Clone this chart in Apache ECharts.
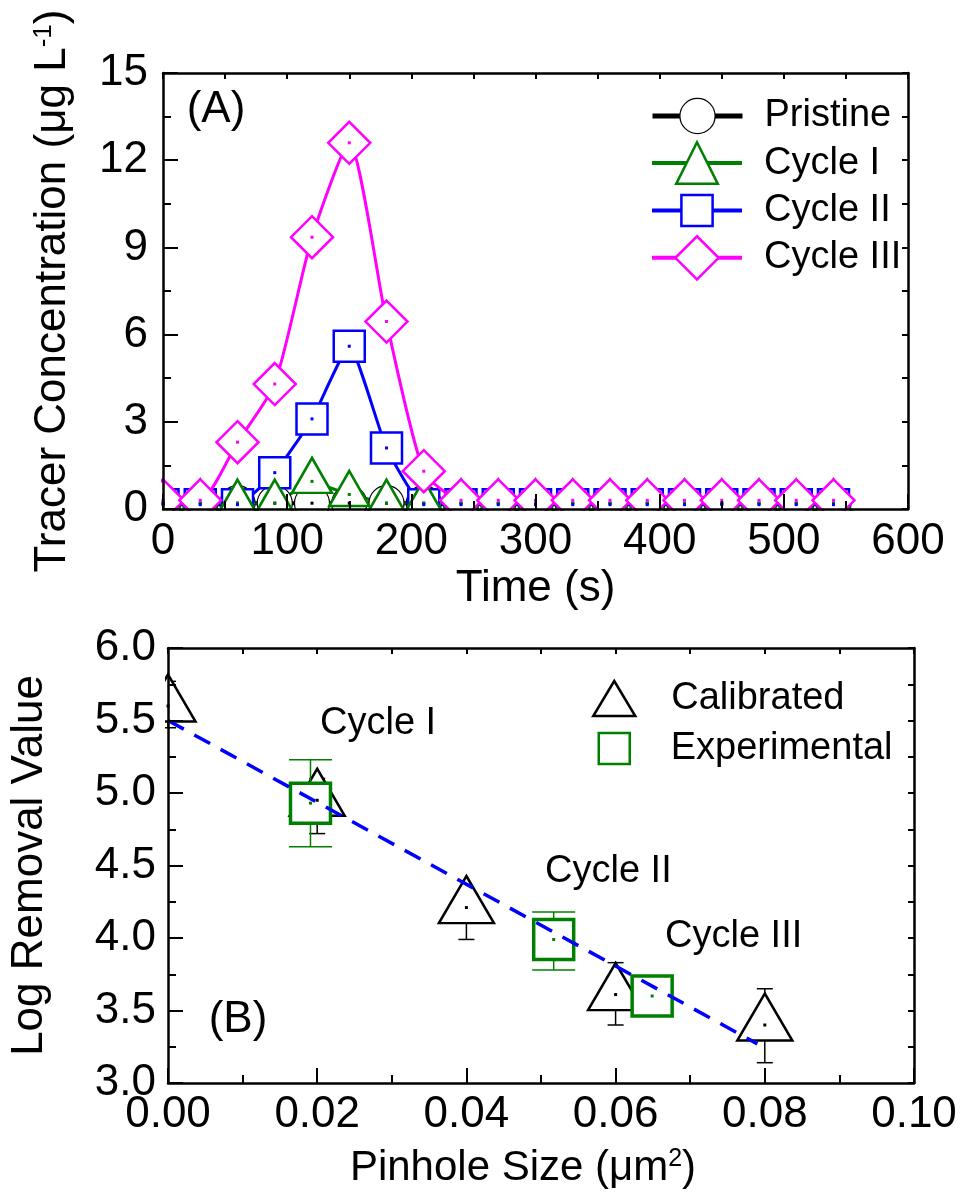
<!DOCTYPE html>
<html>
<head>
<meta charset="utf-8">
<script src="https://cdn.jsdelivr.net/npm/echarts@6/dist/echarts.min.js"></script>
<style>
  html, body { margin: 0; padding: 0; background: #fff; }
  #main { width: 963px; height: 1198px; }
</style>
</head>
<body>
<div id="main"></div>
<script>
// ---- data (A): tracer breakthrough ----
var time = [0, 30, 60, 90, 120, 150, 180, 210, 240, 270, 300, 330, 360, 390, 420, 450, 480, 510, 540];
var pristine = [0.2, 0.2, 0.2, 0.2, 0.2, 0.2, 0.2, 0.2, 0.2, 0.2, 0.2, 0.2, 0.2, 0.2, 0.2, 0.2, 0.2, 0.2, 0.2];
var cycle1 = [0.2, 0.2, 0.2, 0.2, 0.95, 0.5, 0.2, 0.2, 0.2, 0.2, 0.2, 0.2, 0.2, 0.2, 0.2, 0.2, 0.2, 0.2, 0.2];
var cycle2 = [0.15, 0.15, 0.15, 1.25, 3.1, 5.6, 2.1, 0.15, 0.15, 0.15, 0.15, 0.15, 0.15, 0.15, 0.15, 0.15, 0.15, 0.15, 0.15];
var cycle3 = [0.3, 0.3, 2.3, 4.3, 9.35, 12.6, 6.45, 1.3, 0.3, 0.3, 0.3, 0.3, 0.3, 0.3, 0.3, 0.3, 0.3, 0.3, 0.3];

// ---- data (B): log removal vs pinhole size ----
var calX = [0, 0.02, 0.04, 0.06, 0.08];
var calY = [5.6, 4.95, 4.21, 3.61, 3.40];
var calLow = [5.45, 4.72, 3.99, 3.40, 3.14];
var calHigh = [5.77, 5.1, 4.31, 3.83, 3.65];
var expX = [0.0191, 0.0517, 0.0649];
var expY = [4.93, 3.99, 3.60];
var expLow = [4.63, 3.78, 3.46];
var expHigh = [5.23, 4.18, 3.74];
var fitX = [0, 0.079];
var fitY = [5.5, 3.27];

var FONT = 'Liberation Sans, Arial, sans-serif';

function pairs(xs, ys) {
  return xs.map(function (x, i) { return [x, ys[i]]; });
}
function triples(xs, lo, hi) {
  return xs.map(function (x, i) { return [x, lo[i], hi[i]]; });
}

function errorBar(capW, color, lw) {
  return function (params, api) {
    var x = api.value(0);
    var pLo = api.coord([x, api.value(1)]);
    var pHi = api.coord([x, api.value(2)]);
    var st = { stroke: color, lineWidth: lw };
    return {
      type: 'group',
      children: [
        { type: 'line', shape: { x1: pHi[0], y1: pHi[1], x2: pLo[0], y2: pLo[1] }, style: st },
        { type: 'line', shape: { x1: pHi[0] - capW / 2, y1: pHi[1], x2: pHi[0] + capW / 2, y2: pHi[1] }, style: st },
        { type: 'line', shape: { x1: pLo[0] - capW / 2, y1: pLo[1], x2: pLo[0] + capW / 2, y2: pLo[1] }, style: st }
      ]
    };
  };
}

function mainAxis(grid, pos, min, max, interval, dec, margin) {
  return {
    gridIndex: grid, type: 'value', position: pos, min: min, max: max, interval: interval, z: 10,
    axisLine: { onZero: false, lineStyle: { color: '#000', width: 2.5 } },
    axisTick: { inside: true, length: 15, lineStyle: { color: '#000', width: 2 } },
    minorTick: { show: true, splitNumber: 2, length: 8, lineStyle: { color: '#000', width: 2 } },
    splitLine: { show: false },
    axisLabel: {
      fontSize: 44, color: '#000', fontFamily: FONT, margin: margin,
      formatter: function (v) { return v.toFixed(dec); }
    }
  };
}
function mirrorAxis(grid, pos, min, max, interval) {
  return {
    gridIndex: grid, type: 'value', position: pos, min: min, max: max, interval: interval, z: 10,
    axisLine: { onZero: false, lineStyle: { color: '#000', width: 2.5 } },
    axisTick: { inside: true, length: 6, lineStyle: { color: '#000', width: 2 } },
    minorTick: { show: true, splitNumber: 2, length: 6, lineStyle: { color: '#000', width: 2 } },
    splitLine: { show: false },
    axisLabel: { show: false }
  };
}

function lineLegend(name, top, h, lw) {
  return {
    data: [name], left: 650, top: top, orient: 'vertical', padding: 0,
    itemWidth: 90, itemHeight: h, selectedMode: false,
    lineStyle: { width: lw },
    itemStyle: { borderWidth: name === 'Pristine' ? 1.2 : 2.5 },
    textStyle: { fontSize: 38, color: '#000', fontFamily: FONT, padding: [0, 0, 0, 17] }
  };
}
function dotSeries(x, y, data, color) {
  return {
    type: 'scatter', xAxisIndex: x, yAxisIndex: y, data: data, symbol: 'rect', symbolSize: 3,
    itemStyle: { color: color, opacity: 1 }, z: 4, silent: true
  };
}

var myChart = echarts.init(document.getElementById('main'));

var xA = mainAxis(0, 'bottom', 0, 600, 100, 0, 11);
xA.name = 'Time (s)';
xA.nameLocation = 'middle';
xA.nameGap = 58;
xA.nameTextStyle = { fontSize: 44, color: '#000', fontFamily: FONT };

var yA = mainAxis(0, 'left', 0, 15, 3, 0, 15);
yA.name = '{a|Tracer Concentration (\u03bcg L}{s|-1}{a|)}';
yA.nameLocation = 'middle';
yA.nameGap = 88;
yA.nameTextStyle = {
  color: '#000', fontFamily: FONT,
  rich: {
    a: { fontSize: 44, color: '#000', fontFamily: FONT },
    s: { fontSize: 26, color: '#000', fontFamily: FONT, verticalAlign: 'top' }
  }
};

var xB = mainAxis(1, 'bottom', 0, 0.1, 0.02, 2, 10);
xB.name = '{a|Pinhole Size (\u03bcm}{s|2}{a|)}';
xB.nameLocation = 'middle';
xB.nameGap = 64;
xB.nameTextStyle = {
  color: '#000', fontFamily: FONT, fontSize: 42, padding: [0, 36, 0, 0],
  rich: {
    a: { fontSize: 42, color: '#000', fontFamily: FONT },
    s: { fontSize: 25, color: '#000', fontFamily: FONT, verticalAlign: 'top' }
  }
};

var yB = mainAxis(1, 'left', 3, 6, 0.5, 1, 12);
yB.name = 'Log Removal Value';
yB.nameLocation = 'middle';
yB.nameGap = 116;
yB.nameTextStyle = { fontSize: 44, color: '#000', fontFamily: FONT };

var option = {
  backgroundColor: '#fff',
  textStyle: { fontFamily: FONT },
  animation: false,
  grid: [
    { left: 163, top: 73, width: 745, height: 436 },
    { left: 167, top: 648, width: 747, height: 435 }
  ],
  xAxis: [xA, mirrorAxis(0, 'top', 0, 600, 100), xB, mirrorAxis(1, 'top', 0, 0.1, 0.02)],
  yAxis: [yA, mirrorAxis(0, 'right', 0, 15, 3), yB, mirrorAxis(1, 'right', 3, 6, 0.5)],
  legend: [
    lineLegend('Pristine', 97, 44, 5),
    lineLegend('Cycle I', 141, 52, 4),
    lineLegend('Cycle II', 191.5, 39, 4),
    lineLegend('Cycle III', 235, 54, 4),
    {
      data: ['Calibrated'], left: 592, top: 679.5, padding: 0, itemWidth: 42, itemHeight: 35, selectedMode: false,
      itemStyle: { borderWidth: 2.5 },
      textStyle: { fontSize: 38, color: '#000', fontFamily: FONT, padding: [0, 0, 0, 31] }
    },
    {
      data: ['Experimental'], left: 597.5, top: 729.5, padding: 0, itemWidth: 31, itemHeight: 31, selectedMode: false,
      itemStyle: { borderWidth: 2.5 },
      textStyle: { fontSize: 38, color: '#000', fontFamily: FONT, padding: [0, 0, 0, 36] }
    }
  ],
  graphic: [
    // masks so markers are cut at the frame, as in the original plot
    { type: 'rect', z: 5, silent: true, shape: { x: 100, y: 60, width: 61, height: 475 }, style: { fill: '#fff' } },
    { type: 'rect', z: 5, silent: true, shape: { x: 100, y: 511, width: 830, height: 22 }, style: { fill: '#fff' } },
    { type: 'rect', z: 5, silent: true, shape: { x: 100, y: 636, width: 65, height: 460 }, style: { fill: '#fff' } },
    { type: 'text', z: 6, style: { text: '(A)', x: 216, y: 110, align: 'center', verticalAlign: 'middle', fontSize: 44, fontFamily: FONT, fill: '#000' } },
    { type: 'text', z: 6, style: { text: '(B)', x: 238, y: 1020, align: 'center', verticalAlign: 'middle', fontSize: 44, fontFamily: FONT, fill: '#000' } },
    { type: 'text', z: 6, style: { text: 'Cycle I', x: 320, y: 724, align: 'left', verticalAlign: 'middle', fontSize: 38, fontFamily: FONT, fill: '#000' } },
    { type: 'text', z: 6, style: { text: 'Cycle II', x: 545, y: 872, align: 'left', verticalAlign: 'middle', fontSize: 38, fontFamily: FONT, fill: '#000' } },
    { type: 'text', z: 6, style: { text: 'Cycle III', x: 665, y: 937, align: 'left', verticalAlign: 'middle', fontSize: 38, fontFamily: FONT, fill: '#000' } }
  ],
  series: [
    {
      name: 'Pristine', type: 'line', xAxisIndex: 0, yAxisIndex: 0, data: pairs(time, pristine),
      symbol: 'circle', symbolSize: 35, z: 2,
      itemStyle: { color: '#fff', borderColor: '#000', borderWidth: 1.2, opacity: 1 },
      lineStyle: { color: '#000', width: 4 }
    },
    {
      name: 'Cycle II', type: 'line', xAxisIndex: 0, yAxisIndex: 0, data: pairs(time, cycle2),
      symbol: 'rect', symbolSize: 31, smooth: 0.15, z: 2,
      itemStyle: { color: '#fff', borderColor: '#0000ff', borderWidth: 2.5, opacity: 1 },
      lineStyle: { color: '#0000ff', width: 3 }
    },
    {
      name: 'Cycle I', type: 'line', xAxisIndex: 0, yAxisIndex: 0, data: pairs(time, cycle1),
      symbol: 'triangle', symbolSize: [40, 35], symbolOffset: [0, -6], z: 2,
      itemStyle: { color: '#fff', borderColor: '#008000', borderWidth: 2.5, opacity: 1 },
      lineStyle: { color: '#008000', width: 3 }
    },
    {
      name: 'Cycle III', type: 'line', xAxisIndex: 0, yAxisIndex: 0, data: pairs(time, cycle3),
      symbol: 'diamond', symbolSize: 42, smooth: 0.2, z: 3,
      itemStyle: { color: '#fff', borderColor: '#ff00ff', borderWidth: 2.5, opacity: 1 },
      lineStyle: { color: '#ff00ff', width: 3 }
    },
    dotSeries(0, 0, pairs(time, pristine), '#000'),
    dotSeries(0, 0, pairs(time, cycle1), '#008000'),
    dotSeries(0, 0, pairs(time, cycle2), '#0000ff'),
    dotSeries(0, 0, pairs(time, cycle3), '#ff00ff'),

    {
      type: 'custom', xAxisIndex: 2, yAxisIndex: 2, data: triples(calX, calLow, calHigh),
      encode: { x: 0, y: [1, 2] }, renderItem: errorBar(16, '#000', 1.5), z: 2, silent: true
    },
    {
      name: 'Calibrated', type: 'scatter', xAxisIndex: 2, yAxisIndex: 2, data: pairs(calX, calY),
      symbol: 'triangle', symbolSize: [55, 47], symbolOffset: [0, -8], z: 2,
      itemStyle: { color: '#fff', borderColor: '#000', borderWidth: 2.5, opacity: 1 }
    },
    {
      type: 'custom', xAxisIndex: 2, yAxisIndex: 2, data: triples(expX, expLow, expHigh),
      encode: { x: 0, y: [1, 2] }, renderItem: errorBar(43, '#008000', 1.5), z: 3, silent: true
    },
    {
      name: 'Experimental', type: 'scatter', xAxisIndex: 2, yAxisIndex: 2, data: pairs(expX, expY),
      symbol: 'rect', symbolSize: 40, z: 3,
      itemStyle: { color: '#fff', borderColor: '#008000', borderWidth: 3.5, opacity: 1 }
    },
    dotSeries(2, 2, pairs(calX, calY), '#000'),
    dotSeries(2, 2, pairs(expX, expY), '#008000'),
    {
      type: 'line', xAxisIndex: 2, yAxisIndex: 2, data: pairs(fitX, fitY), symbol: 'none', z: 4, silent: true,
      lineStyle: { color: '#0000ff', width: 3.5, type: [18, 12] }
    }
  ]
};

myChart.setOption(option);
</script>
</body>
</html>
